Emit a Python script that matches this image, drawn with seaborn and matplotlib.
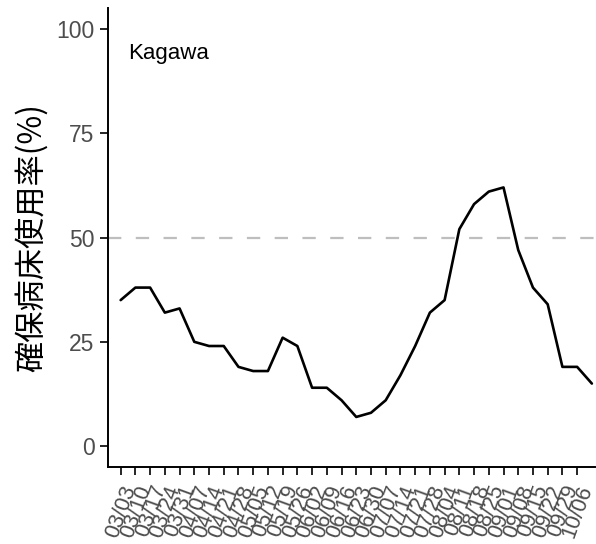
import matplotlib
matplotlib.use("Agg")
import matplotlib.pyplot as plt
import seaborn as sns
import pandas as pd

# weekly dates (MM/DD), one more point than there are ticks
dates = ["03/03", "03/10", "03/17", "03/24", "03/31", "04/07", "04/14", "04/21",
         "04/28", "05/05", "05/12", "05/19", "05/26", "06/02", "06/09", "06/16",
         "06/23", "06/30", "07/07", "07/14", "07/21", "07/28", "08/04", "08/11",
         "08/18", "08/25", "09/01", "09/08", "09/15", "09/22", "09/29", "10/06",
         "10/13"]
usage = [35, 38, 38, 32, 33, 25, 24, 24, 19, 18, 18, 26, 24, 14, 14, 11, 7,
         8, 11, 17, 24, 32, 35, 52, 58, 61, 62, 47, 38, 34, 19, 19, 15]
tick_labels = dates[:32]
threshold = 50
region = "Kagawa"

df = pd.DataFrame({"pos": range(len(dates)), "date": dates, "usage": usage})

sns.set_theme(style="ticks")
plt.rcParams["font.family"] = ["Liberation Sans", "Noto Sans CJK JP", "DejaVu Sans"]

fig = plt.figure(figsize=(5.96, 5.44), dpi=100)
ax = fig.add_axes([0.1817, 0.1415, 0.8163, 0.8438])

ax.axhline(threshold, color="#BEBEBE", lw=1.6, dashes=(6, 6.5), zorder=1)
sns.lineplot(data=df, x="pos", y="usage", color="black", lw=1.9, ax=ax, zorder=2)

ax.set_xlim(-0.84, 32.2)
ax.set_ylim(-5, 105)
ax.set_yticks([0, 25, 50, 75, 100])
ax.set_xticks(range(len(tick_labels)))
ax.set_xticklabels(tick_labels, rotation=70, ha="right", rotation_mode="anchor")

ax.tick_params(axis="both", colors="black", length=6, width=1.2, labelsize=16.5,
               labelcolor="#4D4D4D")
# labels kept just inside the bottom edge
ax.tick_params(axis="x", pad=5, labelsize=15.5)
ax.tick_params(axis="y", pad=4)

for side in ["top", "right"]:
    ax.spines[side].set_visible(False)
for side in ["left", "bottom"]:
    ax.spines[side].set_linewidth(1.4)
    ax.spines[side].set_color("black")

ax.set_xlabel("")
ax.set_ylabel("確保病床使用率(%)", fontsize=22.5, color="black",
              family=["Noto Sans CJK JP", "DejaVu Sans"], labelpad=6)

ax.text(0.5, 94.2, region, ha="left", va="center", fontsize=16, color="black")

fig.savefig("out.png", dpi=100)
